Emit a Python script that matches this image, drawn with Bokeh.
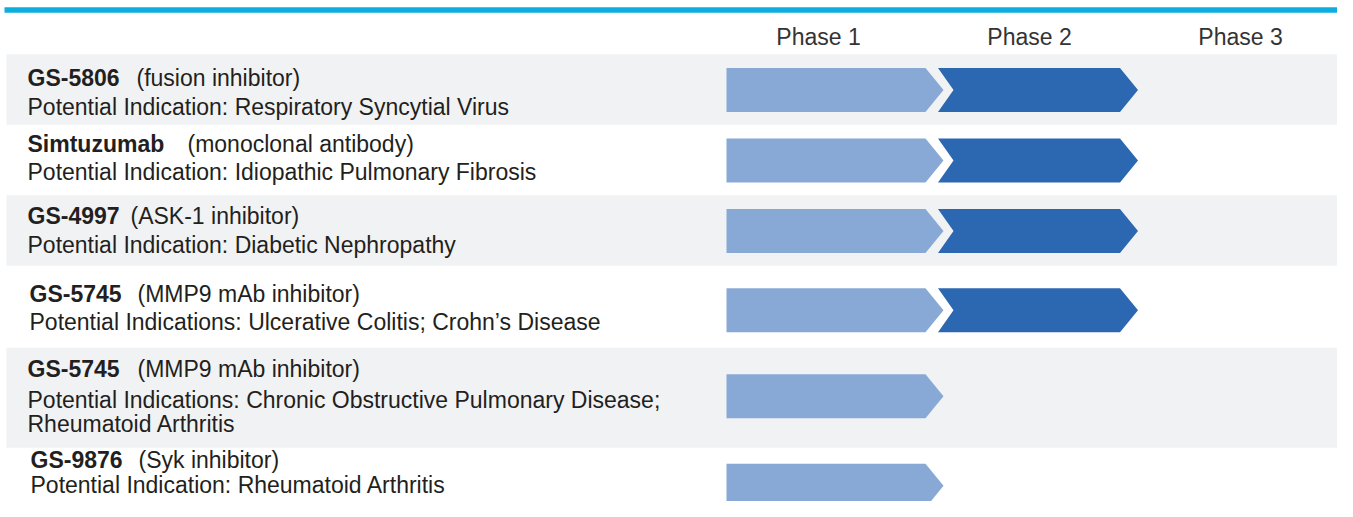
from bokeh.plotting import figure
from bokeh.models import Range1d, ColumnDataSource
from bokeh.core.properties import value
from bokeh.embed import file_html
from bokeh.resources import INLINE

# ---------------- data ----------------
phases = ["Phase 1", "Phase 2", "Phase 3"]
drugs = ["GS-5806", "Simtuzumab", "GS-4997", "GS-5745", "GS-5745", "GS-9876"]
mechanisms = ["(fusion inhibitor)", "(monoclonal antibody)", "(ASK-1 inhibitor)",
              "(MMP9 mAb inhibitor)", "(MMP9 mAb inhibitor)", "(Syk inhibitor)"]
indications = [
    ["Potential Indication: Respiratory Syncytial Virus"],
    ["Potential Indication: Idiopathic Pulmonary Fibrosis"],
    ["Potential Indication: Diabetic Nephropathy"],
    ["Potential Indications: Ulcerative Colitis; Crohn\u2019s Disease"],
    ["Potential Indications: Chronic Obstructive Pulmonary Disease;", "Rheumatoid Arthritis"],
    ["Potential Indication: Rheumatoid Arthritis"],
]
phase_reached = [2, 2, 2, 2, 1, 1]

# ---------------- layout (pixel-like units, top-down) ----------------
PHASE_X0 = 726.0      # left edge of phase 1 column
PHASE_W = 211.0       # pixels per phase


def px(p):
    """convert horizontal pixel to phase units"""
    return (p - PHASE_X0) / PHASE_W


band_top = [55, 127, 199, 271, 355, 457]
band_bot = [127, 199, 271, 355, 457, 540]
arrow_cy = [91.5, 163.5, 235.5, 316.5, 404.5, 496]
name_x = [27, 27, 27, 29, 27, 30]
mech_x = [136, 187, 130, 137, 137, 138]
line_y = [[79, 109], [147, 175], [220, 250], [300, 329], [377, 408, 433], [470, 495]]
ARROW_H = 45
TIP = 18 / PHASE_W
NOTCH = 15.5 / PHASE_W
LEN_FIRST = 217 / PHASE_W
LEN_NEXT = 200 / PHASE_W
NEXT_SHIFT = (937.5 - PHASE_X0 - PHASE_W) / PHASE_W

LIGHT = "#88A9D6"
DARK = "#2B68B1"
GREY = "#F1F2F4"
CYAN = "#0BAEDC"
TXT = "#231F20"
FONT = "Liberation Sans"
FS = "23px"

p = figure(width=1337, height=501, output_backend="svg", toolbar_location=None,
           x_range=Range1d(px(0), px(1337)), y_range=Range1d(512, 0),
           min_border=0, outline_line_color=None, background_fill_color="white",
           border_fill_color="white")
p.xaxis.visible = False
p.yaxis.visible = False
p.grid.visible = False

# top cyan rule
p.quad(left=[px(4)], right=[px(1360)], top=[7], bottom=[12.5], fill_color=CYAN, line_color=None)

# alternating grey bands
gi = [i for i in range(len(drugs)) if i % 2 == 0]
p.quad(left=[px(6)] * len(gi), right=[px(1360)] * len(gi),
       top=[band_top[i] for i in gi], bottom=[band_bot[i] for i in gi],
       fill_color=GREY, line_color=None)

# phase headers
p.text(x=[i + px(818) for i in range(len(phases))], y=[37] * len(phases), text=phases,
       text_font=value(FONT), text_font_size=FS, text_color="#333333",
       text_align="center", text_baseline="middle")

# arrows
xs, ys, cols = [], [], []
for r, reached in enumerate(phase_reached):
    cy = arrow_cy[r]
    t, b = cy - ARROW_H / 2, cy + ARROW_H / 2
    for k in range(1, reached + 1):
        if k == 1:
            left = 0.0
            tip = left + LEN_FIRST
            body = tip - TIP
            xs.append([left, body, tip, body, left])
            ys.append([t, t, cy, b, b])
            cols.append(LIGHT)
        else:
            left = (k - 1) * 1.0 + NEXT_SHIFT
            tip = left + LEN_NEXT
            body = tip - TIP
            xs.append([left, body, tip, body, left, left + NOTCH])
            ys.append([t, t, cy, b, b, cy])
            cols.append(DARK)
p.patches(xs="xs", ys="ys", fill_color="cols", line_color=None,
          source=ColumnDataSource(dict(xs=xs, ys=ys, cols=cols)))

# texts
p.text(x=[px(v) for v in name_x], y=[ly[0] for ly in line_y], text=drugs,
       text_font=value(FONT), text_font_size=FS, text_font_style="bold",
       text_color=TXT, text_align="left", text_baseline="middle")
p.text(x=[px(v) for v in mech_x], y=[ly[0] for ly in line_y], text=mechanisms,
       text_font=value(FONT), text_font_size=FS,
       text_color=TXT, text_align="left", text_baseline="middle")
ix, iy, it = [], [], []
for r, lines in enumerate(indications):
    for j, s in enumerate(lines):
        ix.append(px(name_x[r]))
        iy.append(line_y[r][j + 1])
        it.append(s)
p.text(x=ix, y=iy, text=it, text_font=value(FONT), text_font_size=FS,
       text_color=TXT, text_align="left", text_baseline="middle")

open("out.html", "w").write(file_html(p, INLINE))
